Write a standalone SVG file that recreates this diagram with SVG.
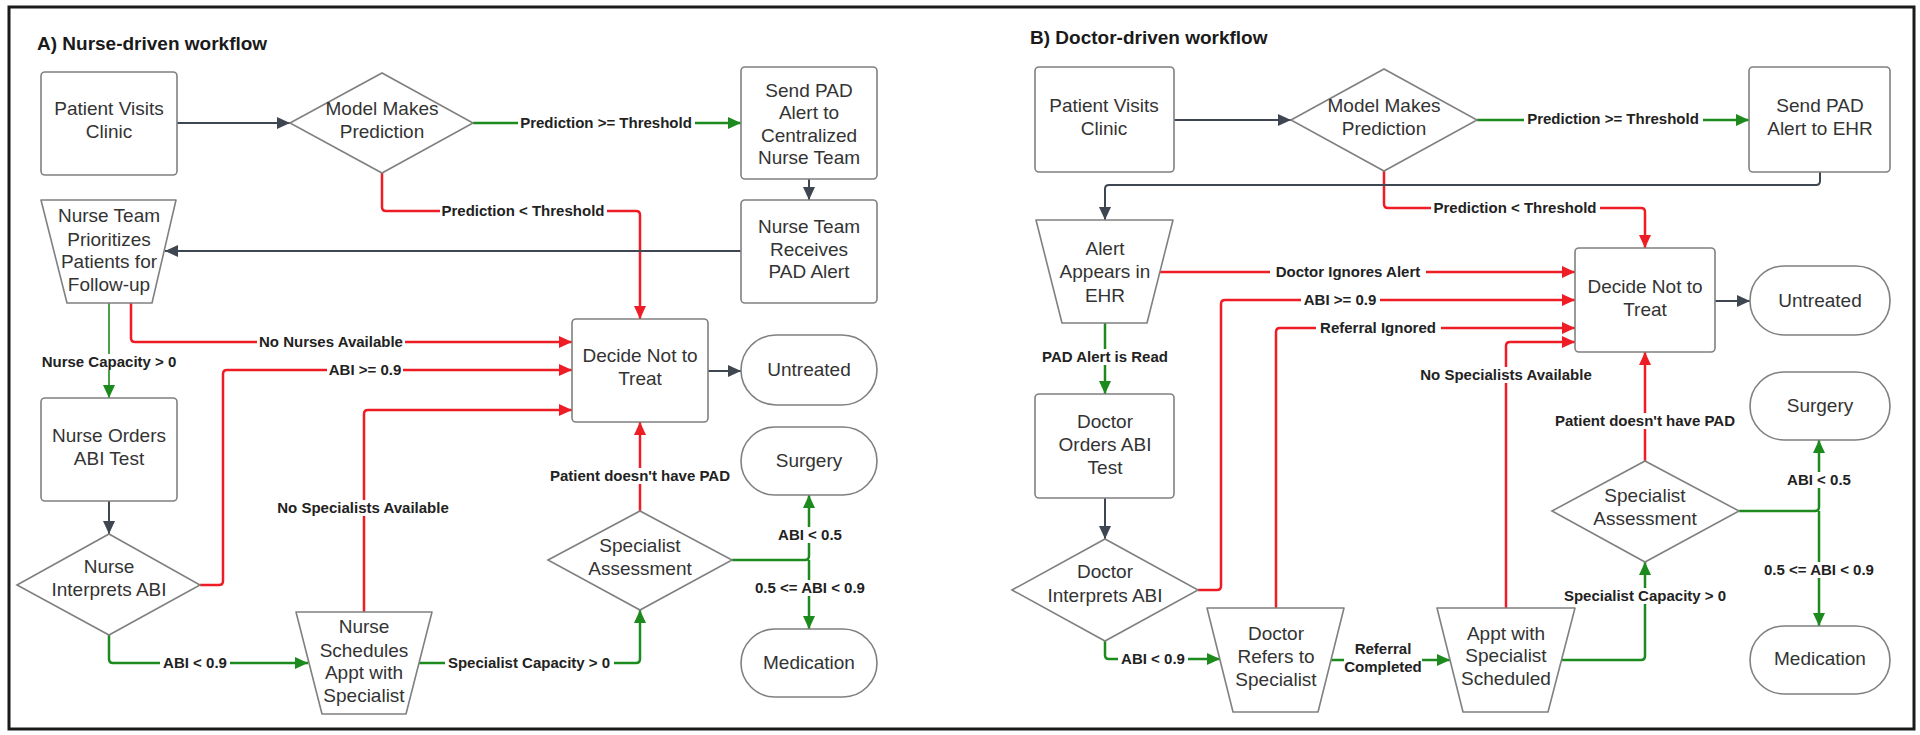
<svg xmlns="http://www.w3.org/2000/svg" width="1920" height="735" viewBox="0 0 1920 735">
<style>
.node{fill:#fff;stroke:#808080;stroke-width:1.6}
.nt{font-family:"Liberation Sans",Arial,sans-serif;font-size:19px;fill:#333;text-anchor:middle}
.title{font-family:"Liberation Sans",Arial,sans-serif;font-size:19px;font-weight:bold;fill:#1a1a1a}
.lt{font-family:"Liberation Sans",Arial,sans-serif;font-size:15px;font-weight:bold;fill:#222;text-anchor:middle}
.lb{fill:#fff}
.c{fill:none;stroke-linejoin:round}
.red{stroke:#ee1c24;stroke-width:2.5;marker-end:url(#ar)}
.grn{stroke:#1c8a1c;stroke-width:2.5;marker-end:url(#ag)}
.thin{stroke-width:1.6}
.drk{stroke:#3e4651;stroke-width:2;marker-end:url(#ad)}
</style>
<defs>
<marker id="ar" markerUnits="userSpaceOnUse" markerWidth="14" markerHeight="12" refX="13" refY="6" orient="auto"><path d="M0,0 L13,6 L0,12 z" fill="#ee1c24"/></marker>
<marker id="ag" markerUnits="userSpaceOnUse" markerWidth="14" markerHeight="12" refX="13" refY="6" orient="auto"><path d="M0,0 L13,6 L0,12 z" fill="#1c8a1c"/></marker>
<marker id="ad" markerUnits="userSpaceOnUse" markerWidth="14" markerHeight="12" refX="13" refY="6" orient="auto"><path d="M0,0 L13,6 L0,12 z" fill="#3e4651"/></marker>
</defs>
<rect width="1920" height="735" fill="#fff"/>
<rect x="9" y="7" width="1905" height="722" fill="none" stroke="#1a1a1a" stroke-width="3"/>
<text class="title" x="37" y="50">A) Nurse-driven workflow</text>
<text class="title" x="1030" y="44">B) Doctor-driven workflow</text>

<g id="connectors">
<!-- Panel A -->
<path class="c drk" d="M177,123 H290"/>
<path class="c grn" d="M473,123 H741"/>
<path class="c red" d="M382,173 V207 Q382,211 386,211 H636 Q640,211 640,215 V319"/>
<path class="c drk" d="M809,179 V200"/>
<path class="c drk" d="M741,251 H165"/>
<path class="c red" d="M131,303 V338 Q131,342 135,342 H572"/>
<path class="c grn thin" d="M109,303 V398"/>
<path class="c drk" d="M109,501 V534"/>
<path class="c red" d="M200,585 H219 Q223,585 223,581 V374 Q223,370 227,370 H572"/>
<path class="c grn" d="M109,635 V659 Q109,663 113,663 H308"/>
<path class="c red" d="M364,612 V414 Q364,410 368,410 H572"/>
<path class="c grn" d="M419,663 H636 Q640,663 640,659 V610"/>
<path class="c red" d="M640,511 V422"/>
<path class="c drk" d="M708,371 H741"/>
<path class="c grn" d="M732,560 H805 Q809,560 809,556 V495"/>
<path class="c grn" d="M809,560 V629"/>
<!-- Panel B -->
<path class="c drk" d="M1174,120 H1291"/>
<path class="c grn" d="M1477,120 H1749"/>
<path class="c red" d="M1384,171 V204 Q1384,208 1388,208 H1641 Q1645,208 1645,212 V248"/>
<path class="c drk" d="M1820,172 V181 Q1820,185 1816,185 H1109 Q1105,185 1105,189 V220"/>
<path class="c red" d="M1160,272 H1575"/>
<path class="c grn" d="M1105,323 V394"/>
<path class="c drk" d="M1105,498 V539"/>
<path class="c red" d="M1198,590 H1217 Q1221,590 1221,586 V304 Q1221,300 1225,300 H1575"/>
<path class="c grn" d="M1105,641 V655 Q1105,659 1109,659 H1220"/>
<path class="c red" d="M1276,608 V332 Q1276,328 1280,328 H1575"/>
<path class="c grn" d="M1331,660 H1450"/>
<path class="c red" d="M1506,608 V346 Q1506,342 1510,342 H1575"/>
<path class="c grn" d="M1562,660 H1641 Q1645,660 1645,656 V562"/>
<path class="c red" d="M1645,461 V352"/>
<path class="c drk" d="M1715,301 H1750"/>
<path class="c grn" d="M1739,511 H1815 Q1819,511 1819,507 V440"/>
<path class="c grn" d="M1819,511 V626"/>

<!-- labels A -->
<rect class="lb" x="518" y="115" width="177" height="16"/><text class="lt" x="606" y="128">Prediction &gt;= Threshold</text>
<rect class="lb" x="440" y="203" width="167" height="16"/><text class="lt" x="523" y="216">Prediction &lt; Threshold</text>
<rect class="lb" x="257" y="334" width="148" height="16"/><text class="lt" x="331" y="347">No Nurses Available</text>
<rect class="lb" x="38" y="354" width="142" height="16"/><text class="lt" x="109" y="367">Nurse Capacity &gt; 0</text>
<rect class="lb" x="327" y="362" width="76" height="16"/><text class="lt" x="365" y="375">ABI &gt;= 0.9</text>
<rect class="lb" x="274" y="500" width="179" height="16"/><text class="lt" x="363" y="513">No Specialists Available</text>
<rect class="lb" x="160" y="655" width="70" height="16"/><text class="lt" x="195" y="668">ABI &lt; 0.9</text>
<rect class="lb" x="445" y="655" width="169" height="16"/><text class="lt" x="529" y="668">Specialist Capacity &gt; 0</text>
<rect class="lb" x="547" y="468" width="187" height="16"/><text class="lt" x="640" y="481">Patient doesn't have PAD</text>
<rect class="lb" x="775" y="527" width="70" height="16"/><text class="lt" x="810" y="540">ABI &lt; 0.5</text>
<rect class="lb" x="751" y="580" width="118" height="16"/><text class="lt" x="810" y="593">0.5 &lt;= ABI &lt; 0.9</text>
<!-- labels B -->
<rect class="lb" x="1524" y="111" width="179" height="16"/><text class="lt" x="1613" y="124">Prediction &gt;= Threshold</text>
<rect class="lb" x="1431" y="200" width="169" height="16"/><text class="lt" x="1515" y="213">Prediction &lt; Threshold</text>
<rect class="lb" x="1270" y="264" width="156" height="16"/><text class="lt" x="1348" y="277">Doctor Ignores Alert</text>
<rect class="lb" x="1301" y="292" width="79" height="16"/><text class="lt" x="1340" y="305">ABI &gt;= 0.9</text>
<rect class="lb" x="1316" y="320" width="125" height="16"/><text class="lt" x="1378" y="333">Referral Ignored</text>
<rect class="lb" x="1415" y="367" width="183" height="16"/><text class="lt" x="1506" y="380">No Specialists Available</text>
<rect class="lb" x="1038" y="349" width="134" height="16"/><text class="lt" x="1105" y="362">PAD Alert is Read</text>
<rect class="lb" x="1118" y="651" width="70" height="16"/><text class="lt" x="1153" y="664">ABI &lt; 0.9</text>
<rect class="lb" x="1344" y="640" width="78" height="35"/><text class="lt" x="1383" y="654">Referral</text><text class="lt" x="1383" y="672">Completed</text>
<rect class="lb" x="1560" y="588" width="172" height="16"/><text class="lt" x="1645" y="601">Specialist Capacity &gt; 0</text>
<rect class="lb" x="1551" y="413" width="190" height="16"/><text class="lt" x="1645" y="426">Patient doesn't have PAD</text>
<rect class="lb" x="1784" y="472" width="70" height="16"/><text class="lt" x="1819" y="485">ABI &lt; 0.5</text>
<rect class="lb" x="1760" y="562" width="118" height="16"/><text class="lt" x="1819" y="575">0.5 &lt;= ABI &lt; 0.9</text>
</g>

<!-- Panel A nodes -->
<g id="a-visit"><rect class="node" x="41" y="72" width="136" height="103" rx="4"/><text class="nt" x="109" y="115">Patient Visits</text><text class="nt" x="109" y="138">Clinic</text></g>
<g id="a-model"><polygon class="node" points="290,123 382,73 473,123 382,173"/><text class="nt" x="382" y="115">Model Makes</text><text class="nt" x="382" y="138">Prediction</text></g>
<g id="a-send"><rect class="node" x="741" y="67" width="136" height="112" rx="4"/><text class="nt" x="809" y="97">Send PAD</text><text class="nt" x="809" y="119">Alert to</text><text class="nt" x="809" y="142">Centralized</text><text class="nt" x="809" y="164">Nurse Team</text></g>
<g id="a-recv"><rect class="node" x="741" y="200" width="136" height="103" rx="4"/><text class="nt" x="809" y="233">Nurse Team</text><text class="nt" x="809" y="256">Receives</text><text class="nt" x="809" y="278">PAD Alert</text></g>
<g id="a-prio"><polygon class="node" stroke-linejoin="round" points="41,200 176,200 152,303 67,303"/><text class="nt" x="109" y="222">Nurse Team</text><text class="nt" x="109" y="246">Prioritizes</text><text class="nt" x="109" y="268">Patients for</text><text class="nt" x="109" y="291">Follow-up</text></g>
<g id="a-decide"><rect class="node" x="572" y="319" width="136" height="103" rx="4"/><text class="nt" x="640" y="362">Decide Not to</text><text class="nt" x="640" y="385">Treat</text></g>
<g id="a-untreated"><rect class="node" x="741" y="335" width="136" height="70" rx="35"/><text class="nt" x="809" y="376">Untreated</text></g>
<g id="a-orders"><rect class="node" x="41" y="398" width="136" height="103" rx="4"/><text class="nt" x="109" y="442">Nurse Orders</text><text class="nt" x="109" y="465">ABI Test</text></g>
<g id="a-interp"><polygon class="node" points="17,585 109,534 200,585 109,635"/><text class="nt" x="109" y="573">Nurse</text><text class="nt" x="109" y="596">Interprets ABI</text></g>
<g id="a-sched"><polygon class="node" stroke-linejoin="round" points="296,612 432,612 406,714 322,714"/><text class="nt" x="364" y="633">Nurse</text><text class="nt" x="364" y="657">Schedules</text><text class="nt" x="364" y="679">Appt with</text><text class="nt" x="364" y="702">Specialist</text></g>
<g id="a-assess"><polygon class="node" points="548,560 640,511 732,560 640,610"/><text class="nt" x="640" y="552">Specialist</text><text class="nt" x="640" y="575">Assessment</text></g>
<g id="a-surgery"><rect class="node" x="741" y="427" width="136" height="68" rx="34"/><text class="nt" x="809" y="467">Surgery</text></g>
<g id="a-medication"><rect class="node" x="741" y="629" width="136" height="68" rx="34"/><text class="nt" x="809" y="669">Medication</text></g>

<!-- Panel B nodes -->
<g id="b-visit"><rect class="node" x="1035" y="67" width="139" height="105" rx="4"/><text class="nt" x="1104" y="112">Patient Visits</text><text class="nt" x="1104" y="135">Clinic</text></g>
<g id="b-model"><polygon class="node" points="1291,120 1384,69 1477,120 1384,171"/><text class="nt" x="1384" y="112">Model Makes</text><text class="nt" x="1384" y="135">Prediction</text></g>
<g id="b-send"><rect class="node" x="1749" y="67" width="141" height="105" rx="4"/><text class="nt" x="1820" y="112">Send PAD</text><text class="nt" x="1820" y="135">Alert to EHR</text></g>
<g id="b-alert"><polygon class="node" stroke-linejoin="round" points="1036,220 1173,220 1147,323 1062,323"/><text class="nt" x="1105" y="255">Alert</text><text class="nt" x="1105" y="278">Appears in</text><text class="nt" x="1105" y="302">EHR</text></g>
<g id="b-decide"><rect class="node" x="1575" y="248" width="140" height="104" rx="4"/><text class="nt" x="1645" y="293">Decide Not to</text><text class="nt" x="1645" y="316">Treat</text></g>
<g id="b-untreated"><rect class="node" x="1750" y="266" width="140" height="69" rx="34"/><text class="nt" x="1820" y="307">Untreated</text></g>
<g id="b-orders"><rect class="node" x="1035" y="394" width="139" height="104" rx="4"/><text class="nt" x="1105" y="428">Doctor</text><text class="nt" x="1105" y="451">Orders ABI</text><text class="nt" x="1105" y="474">Test</text></g>
<g id="b-interp"><polygon class="node" points="1012,590 1105,539 1198,590 1105,641"/><text class="nt" x="1105" y="578">Doctor</text><text class="nt" x="1105" y="602">Interprets ABI</text></g>
<g id="b-refers"><polygon class="node" stroke-linejoin="round" points="1207,608 1344,608 1318,712 1233,712"/><text class="nt" x="1276" y="640">Doctor</text><text class="nt" x="1276" y="663">Refers to</text><text class="nt" x="1276" y="686">Specialist</text></g>
<g id="b-appt"><polygon class="node" stroke-linejoin="round" points="1437,608 1575,608 1548,712 1463,712"/><text class="nt" x="1506" y="640">Appt with</text><text class="nt" x="1506" y="662">Specialist</text><text class="nt" x="1506" y="685">Scheduled</text></g>
<g id="b-assess"><polygon class="node" points="1552,511 1645,461 1739,511 1645,562"/><text class="nt" x="1645" y="502">Specialist</text><text class="nt" x="1645" y="525">Assessment</text></g>
<g id="b-surgery"><rect class="node" x="1750" y="372" width="140" height="68" rx="34"/><text class="nt" x="1820" y="412">Surgery</text></g>
<g id="b-medication"><rect class="node" x="1750" y="626" width="140" height="68" rx="34"/><text class="nt" x="1820" y="665">Medication</text></g>
</svg>
